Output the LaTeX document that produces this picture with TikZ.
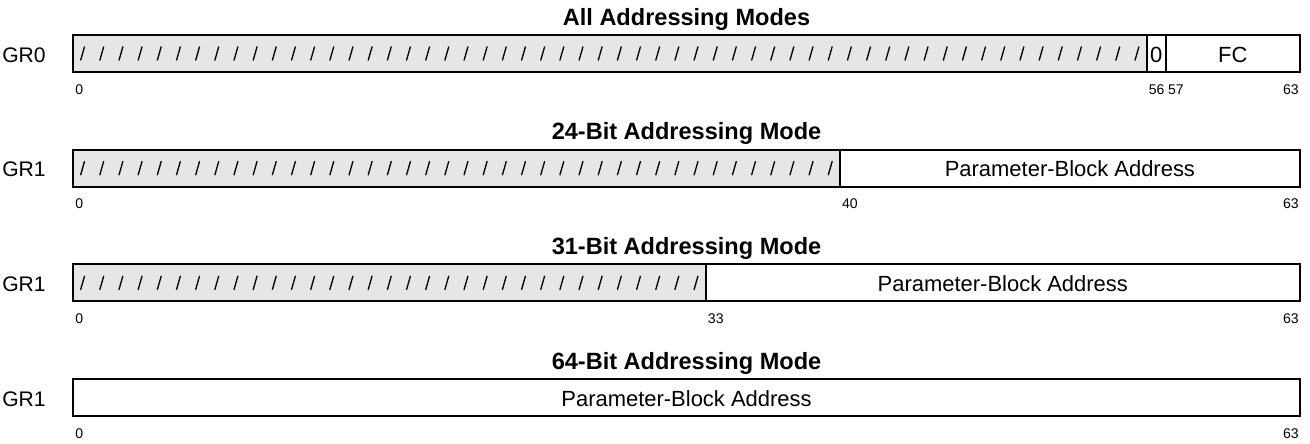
\documentclass[tikz,border=0pt]{standalone}
\usepackage{fontspec}
\setmainfont{Liberation Sans}
\usetikzlibrary{positioning}
\definecolor{fieldgray}{HTML}{E6E6E6}
\tikzset{
  regbox/.style={draw=black,line width=1.1pt},
  grayfield/.style={regbox,fill=fieldgray},
  slash/.style={line width=0.75pt,black},
  modetitle/.style={font=\bfseries\fontsize{13.4}{15}\selectfont,anchor=base},
  reglabel/.style={font=\fontsize{12}{14}\selectfont,anchor=base},
  fieldtext/.style={font=\fontsize{12.5}{14}\selectfont,anchor=base},
  bitnum/.style={font=\fontsize{8}{9}\selectfont,anchor=base west,inner sep=0pt}
}
\newcommand{\bitw}{19.17}

\begin{document}
\begin{tikzpicture}[x=0.02cm,y=-0.02cm]
\useasboundingbox (0,0) rectangle (1310,443);
% GR0, all modes
\begin{scope}[shift={(0,0)}]
\node[modetitle] (t0) at (686.5,25) {All Addressing Modes};
\node[reglabel] (g0) at (24,62) {GR0};
\draw[grayfield] (73,35) rectangle ({73+56*\bitw},72);
\foreach \b in {0,...,55}{\draw[slash] ({73+(\b+0.5)*\bitw-2},60.5)--++(4,-14);}
\draw[regbox] ({73+56*\bitw},35) rectangle ({73+57*\bitw},72);
\draw[regbox] ({73+57*\bitw},35) rectangle (1300,72);
\node[fieldtext] (z0) at ({73+56.5*\bitw},62) {0};
\node[fieldtext] (fc) at ({(73+57*\bitw+1300)/2},62) {FC};
\foreach \b in {0,56,57,63}{\node[bitnum] (n0-\b) at ({73+\b*\bitw+2},94) {\b};}
\end{scope}
% GR1, 24-bit
\begin{scope}[shift={(0,114.67)}]
\node[modetitle] (t1) at (686.5,25) {24-Bit Addressing Mode};
\node[reglabel] (g1) at (24,62) {GR1};
\draw[grayfield] (73,35) rectangle ({73+40*\bitw},72);
\foreach \b in {0,...,39}{\draw[slash] ({73+(\b+0.5)*\bitw-2},60.5)--++(4,-14);}
\draw[regbox] ({73+40*\bitw},35) rectangle (1300,72);
\node[fieldtext] (pb1) at ({(73+40*\bitw+1300)/2},62) {Parameter-Block Address};
\foreach \b in {0,40,63}{\node[bitnum] (n1-\b) at ({73+\b*\bitw+2},94) {\b};}
\end{scope}
% GR1, 31-bit
\begin{scope}[shift={(0,229.33)}]
\node[modetitle] (t2) at (686.5,25) {31-Bit Addressing Mode};
\node[reglabel] (g2) at (24,62) {GR1};
\draw[grayfield] (73,35) rectangle ({73+33*\bitw},72);
\foreach \b in {0,...,32}{\draw[slash] ({73+(\b+0.5)*\bitw-2},60.5)--++(4,-14);}
\draw[regbox] ({73+33*\bitw},35) rectangle (1300,72);
\node[fieldtext] (pb2) at ({(73+33*\bitw+1300)/2},62) {Parameter-Block Address};
\foreach \b in {0,33,63}{\node[bitnum] (n2-\b) at ({73+\b*\bitw+2},94) {\b};}
\end{scope}
% GR1, 64-bit
\begin{scope}[shift={(0,344)}]
\node[modetitle] (t3) at (686.5,25) {64-Bit Addressing Mode};
\node[reglabel] (g3) at (24,62) {GR1};
\draw[regbox] (73,35) rectangle (1300,72);
\node[fieldtext] (pb3) at (686.5,62) {Parameter-Block Address};
\foreach \b in {0,63}{\node[bitnum] (n3-\b) at ({73+\b*\bitw+2},94) {\b};}
\end{scope}
\end{tikzpicture}
\end{document}
